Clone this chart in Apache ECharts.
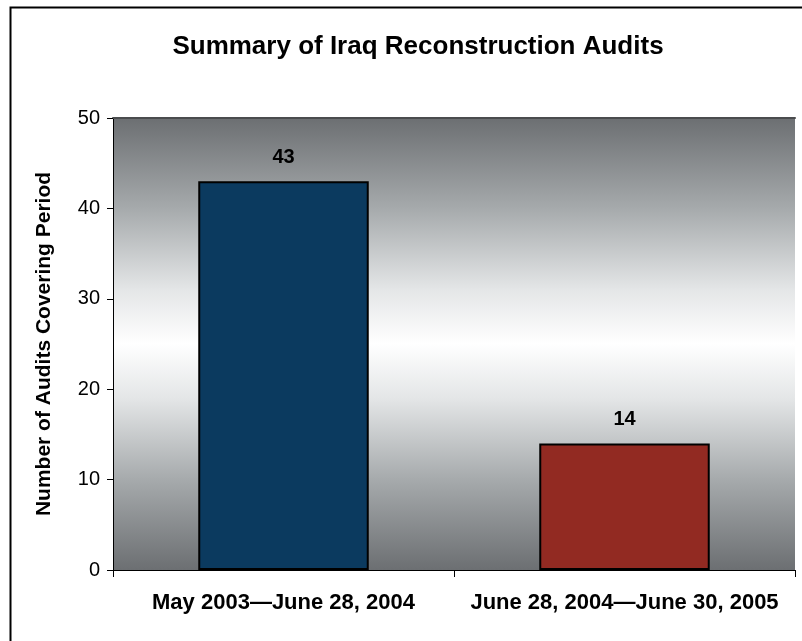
<!DOCTYPE html>
<html>
<head>
<meta charset="utf-8">
<style>
  html, body { margin: 0; padding: 0; background: #fff; }
  #chart { width: 802px; height: 641px; }
</style>
<script src="https://cdn.jsdelivr.net/npm/echarts@6/dist/echarts.min.js"></script>
</head>
<body>
<div id="chart"></div>
<script>
// Audit counts per reporting period
const periods = ['May 2003\u2014June 28, 2004', 'June 28, 2004\u2014June 30, 2005'];
const auditCounts = [43, 14];
const barColors = ['#0b3a5f', '#922a22'];
const yTicks = [0, 10, 20, 30, 40, 50];

const chart = echarts.init(document.getElementById('chart'));
const font = 'Liberation Sans, Arial, sans-serif';

chart.setOption({
  animation: false,
  backgroundColor: '#ffffff',
  title: {
    text: 'Summary of Iraq Reconstruction Audits',
    left: 413, top: 29, textAlign: 'center',
    textStyle: { fontFamily: font, fontSize: 26, fontWeight: 'bold', color: '#000' }
  },
  graphic: [{
    type: 'rect', left: 8, top: 5, z: -1,
    shape: { width: 1000, height: 1000 },
    style: { fill: 'none', stroke: '#000', lineWidth: 2 }
  }],
  grid: {
    left: 113, right: 7, top: 118, bottom: 71,
    show: true, borderWidth: 0,
    backgroundColor: new echarts.graphic.LinearGradient(0, 0, 0, 1, [
      { offset: 0, color: '#6c6f72' },
      { offset: 0.2, color: '#a6aaac' },
      { offset: 0.38, color: '#e4e6e7' },
      { offset: 0.5, color: '#ffffff' },
      { offset: 0.62, color: '#e4e6e7' },
      { offset: 0.8, color: '#a6aaac' },
      { offset: 1, color: '#6c6f72' }
    ])
  },
  xAxis: [{
    type: 'category', data: periods, position: 'bottom',
    axisLine: { lineStyle: { color: '#000', width: 1 } },
    axisTick: { show: true, length: 7, alignWithLabel: false, lineStyle: { color: '#000' } },
    axisLabel: {
      interval: 0, hideOverlap: false,
      fontFamily: font, fontSize: 22, fontWeight: 'bold', color: '#000', margin: 22
    }
  }, {
    type: 'category', data: periods, position: 'top',
    axisLine: { show: true, lineStyle: { color: '#4a4c4e', width: 2 } },
    axisTick: { show: false }, axisLabel: { show: false }
  }],
  yAxis: {
    type: 'value', min: yTicks[0], max: yTicks[yTicks.length - 1], interval: 10,
    axisLine: { show: true, lineStyle: { color: '#000' } },
    axisTick: { show: true, length: 6, lineStyle: { color: '#000' } },
    splitLine: { show: false },
    axisLabel: { fontFamily: font, fontSize: 20, color: '#000', margin: 13 },
    name: 'Number of Audits Covering Period',
    nameLocation: 'middle', nameGap: 58,
    nameTextStyle: { fontFamily: font, fontSize: 21, fontWeight: 'bold', color: '#000' }
  },
  series: [{
    type: 'bar',
    barWidth: '50%',
    data: auditCounts.map((v, i) => ({ value: v, itemStyle: { color: barColors[i] } })),
    itemStyle: { borderColor: '#000', borderWidth: 2 },
    label: {
      show: true, position: 'top', distance: 14,
      fontFamily: font, fontSize: 20, fontWeight: 'bold', color: '#000'
    }
  }]
});
</script>
</body>
</html>
